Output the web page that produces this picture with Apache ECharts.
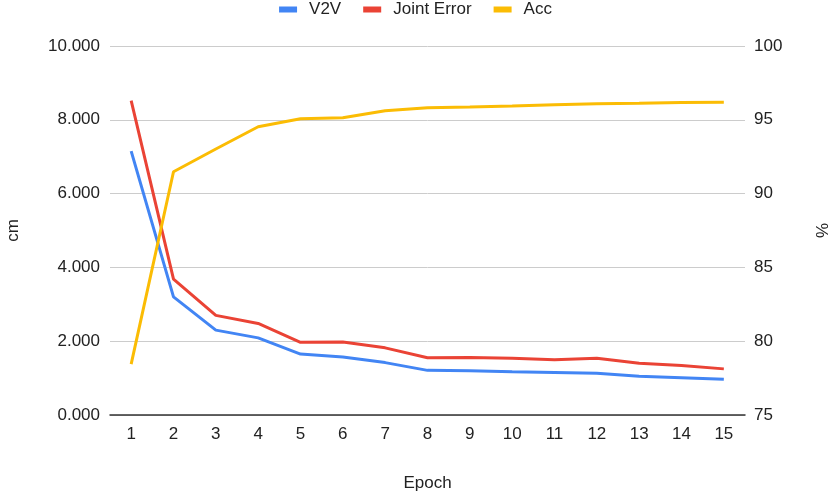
<!DOCTYPE html>
<html>
<head>
<meta charset="utf-8">
<script src="https://cdn.jsdelivr.net/npm/echarts@6/dist/echarts.min.js"></script>
<style>html,body{margin:0;padding:0;background:#fff}#c{width:831px;height:493px}</style>
</head>
<body>
<div id="c"></div>
<script>
const epochs = ['1','2','3','4','5','6','7','8','9','10','11','12','13','14','15'];
const v2v = [7.15, 3.20, 2.30, 2.09, 1.65, 1.57, 1.42, 1.21, 1.20, 1.17, 1.15, 1.13, 1.05, 1.01, 0.97];
const jointError = [8.52, 3.68, 2.70, 2.48, 1.97, 1.98, 1.82, 1.55, 1.56, 1.54, 1.50, 1.54, 1.40, 1.34, 1.25];
const acc = [78.45, 91.48, 93.02, 94.53, 95.07, 95.14, 95.62, 95.82, 95.86, 95.93, 96.02, 96.09, 96.12, 96.18, 96.19];

const font = 'Liberation Sans, Arial, sans-serif';
const chart = echarts.init(document.getElementById('c'));
chart.setOption({
  animation: false,
  textStyle: { fontFamily: font },
  color: ['#4285F4', '#EA4335', '#FBBC04'],
  legend: {
    top: -4, left: 'center',
    itemWidth: 18, itemHeight: 6, itemGap: 22,
    icon: 'rect',
    textStyle: { fontSize: 17, color: '#222', fontFamily: font, padding: [0, 0, 0, 7] },
    data: ['V2V', 'Joint Error', 'Acc']
  },
  grid: { left: 110, right: 86, top: 46, bottom: 78, outerBoundsMode: 'none', containLabel: false },
  xAxis: {
    type: 'category', data: epochs, boundaryGap: true,
    name: 'Epoch', nameLocation: 'middle', nameGap: 60,
    nameTextStyle: { fontSize: 17, color: '#222', fontFamily: font },
    axisTick: { show: false },
    axisLine: { lineStyle: { color: '#333', width: 1.5 } },
    axisLabel: { fontSize: 17, color: '#222', margin: 11, fontFamily: font }
  },
  yAxis: [{
    type: 'value', min: 0, max: 10, interval: 2,
    name: 'cm', nameLocation: 'middle', nameGap: 88, nameRotate: 90,
    nameTextStyle: { fontSize: 17, color: '#222', fontFamily: font },
    axisLine: { show: false }, axisTick: { show: false },
    axisLabel: { fontSize: 17, color: '#222', margin: 10, fontFamily: font, formatter: v => v.toFixed(3) },
    splitLine: { lineStyle: { color: '#ccc', width: 1 } }
  }, {
    type: 'value', min: 75, max: 100, interval: 5,
    name: '%', nameLocation: 'middle', nameGap: 70, nameRotate: 90,
    nameTextStyle: { fontSize: 17, color: '#222', fontFamily: font },
    axisLine: { show: false }, axisTick: { show: false },
    axisLabel: { fontSize: 17, color: '#222', margin: 9, fontFamily: font },
    splitLine: { show: false }
  }],
  series: [
    { name: 'V2V', type: 'line', data: v2v, yAxisIndex: 0, symbol: 'none', lineStyle: { width: 3 } },
    { name: 'Joint Error', type: 'line', data: jointError, yAxisIndex: 0, symbol: 'none', lineStyle: { width: 3 } },
    { name: 'Acc', type: 'line', data: acc, yAxisIndex: 1, symbol: 'none', lineStyle: { width: 3 } }
  ]
});
</script>
</body>
</html>
